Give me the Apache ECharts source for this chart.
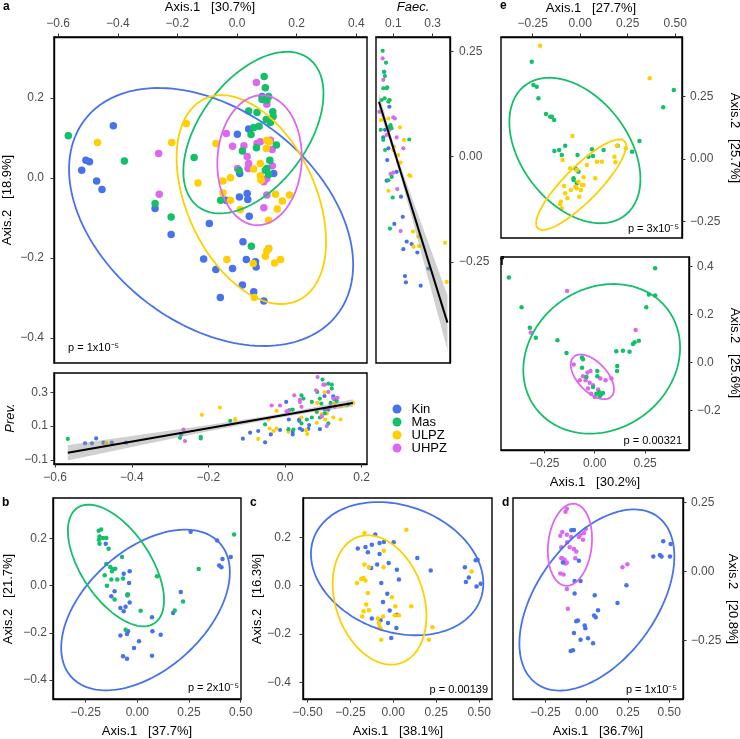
<!DOCTYPE html>
<html><head><meta charset="utf-8">
<script src="https://cdn.jsdelivr.net/npm/echarts@6/dist/echarts.min.js"></script>
<style>html,body{margin:0;padding:0;background:#fff}#c{width:740px;height:739px}</style>
</head><body><div id="c"></div>
<script>
// ---------------- DATA ----------------
const groups = ['Kin', 'Mas', 'ULPZ', 'UHPZ'];
// panel a (main PCoA)
const aKin = [[-0.415,0.13],[-0.521,0.019],[-0.507,0.044],[-0.495,0.04],[-0.471,-0.008],[-0.453,-0.029],[-0.275,-0.077],[-0.221,-0.142],[-0.093,-0.114],[-0.112,-0.203],[-0.071,-0.229],[-0.056,-0.299],[-0.015,-0.227],[0.018,-0.268],[0.02,-0.16],[0.031,-0.204],[0.056,-0.285],[0.062,-0.21],[0.064,-0.223],[0.09,-0.308],[0.034,-0.039],[0.036,-0.054],[0.008,-0.048],[0.041,-0.096],[-0.037,-0.056],[0.001,0.109],[0.009,0.011],[0.039,0.122],[0.123,0.011],[0.084,0.203]];
const aMas = [[-0.566,0.105],[-0.378,0.042],[-0.275,-0.064],[-0.221,-0.098],[-0.144,0.051],[-0.055,-0.056],[0.048,-0.171],[0.091,0.253],[0.095,0.225],[0.084,0.196],[0.106,0.203],[0.1,0.194],[0.039,0.167],[0.067,0.163],[0.12,0.165],[0.121,0.153],[0.098,0.146],[0.074,0.129],[0.056,0.126],[0.112,0.138],[0.047,0.108],[0.065,0.075],[0.018,0.067],[0.132,0.082],[0.11,0.044],[0.007,0.018],[0.095,0.019],[0.106,0.008],[0.1,0.023]];
const aULPZ = [[-0.468,0.088],[-0.219,0.088],[-0.17,0.136],[-0.131,-0.013],[-0.071,0.086],[-0.047,-0.008],[-0.022,0],[-0.047,-0.038],[-0.022,-0.056],[0.011,-0.079],[-0.034,-0.204],[0.054,-0.214],[0.058,-0.299],[0.095,-0.196],[0.1,-0.183],[0.106,-0.177],[0.126,-0.213],[0.146,-0.204],[0.106,-0.106],[0.135,-0.078],[0.152,-0.058],[0.176,-0.043],[0.129,-0.041],[0.056,0.022],[0.078,0.005],[0.081,-0.006],[0.078,0.036],[0.1,0.094],[0.098,0.073],[0.108,0.09]];
const aUHPZ = [[-0.263,0.061],[-0.261,-0.041],[0.065,0.238],[0.1,0.184],[-0.036,0.111],[-0.015,0.079],[0.023,0.08],[0.034,0.053],[0.039,0.036],[0.037,0.023],[0.002,0.023],[0.078,0.09],[0.112,0.094],[0.118,0.071],[0.118,0.03],[0.09,-0.01],[0.1,-0.002],[0.1,-0.043],[0.09,-0.075],[0.106,-0.177],[0.067,0.086]];
// ellipse params: [cx, cy, half-width, half-height, correlation]
const aKinEll = [-0.087,-0.098,0.4765,0.3225,-0.37];
const aMasEll = [0.055,0.113,0.235,0.202,0.48];
const aULPZEll = [0.048,-0.0545,0.2507,0.261,-0.4];
const aUHPZEll = [0.0755,0.044,0.1416,0.1625,0.05];

// Faecalibacterium vs Axis.2
const faecKin = [[0.054,0.202],[0.08,0.119],[0.049,0.046],[0.075,0.02],[0.069,-0.008],[0.066,-0.057],[0.117,-0.036],[0.139,-0.095],[0.148,-0.143],[0.105,-0.16],[0.168,-0.202],[0.151,-0.22],[0.193,-0.208],[0.222,-0.228],[0.159,-0.284],[0.164,-0.299],[0.239,-0.307],[0.278,-0.266],[0.058,0.064]];
const faecMas = [[0.046,0.252],[0.063,0.224],[0.053,0.202],[0.057,0.192],[0.049,0.163],[0.066,0.163],[0.069,0.165],[0.056,0.139],[0.041,0.135],[0.08,0.135],[0.075,0.131],[0.036,0.064],[0.058,0.016],[0.086,0.075],[0.091,0.068],[0.08,0.071],[0.181,0.041],[0.075,-0.056],[0.092,-0.048],[0.097,-0.097],[0.083,-0.171],[0.049,0.04]];
const faecULPZ = [[0.083,0.135],[0.037,0.087],[0.075,0.091],[0.134,0.07],[0.154,0.04],[0.1,0.016],[0.125,0.004],[0.137,-0.014],[0.181,-0.044],[0.187,-0.046],[0.075,-0.081],[0.2,-0.178],[0.227,-0.19],[0.203,-0.214],[0.231,-0.213],[0.363,-0.205],[0.371,-0.298],[0.103,0.024]];
const faecUHPZ = [[0.046,0.234],[0.049,0.183],[0.029,0.107],[0.1,0.094],[0.108,0.091],[0.08,0.064],[0.117,0.046],[0.151,0.02],[0.086,-0.041],[0.1,-0.038],[0.12,-0.077],[0.137,-0.177],[0.066,0.052]];
const faecFit = [[0.027,0.131],[0.375,-0.395]];
const faecBandX = [0.027,0.08,0.13,0.2,0.27,0.375];
const faecBandLo = [0.111,0.039,-0.037,-0.155,-0.278,-0.46];
const faecBandHi = [0.151,0.063,-0.013,-0.105,-0.194,-0.33];

// Axis.1 vs Prevotella
const prevKin = [[-0.522,-0.002],[-0.504,-0.002],[-0.493,0.027],[-0.474,0.002],[-0.452,0.002],[-0.415,0.002],[-0.271,0.051],[-0.11,0.026],[-0.091,0.061],[-0.07,0.071],[-0.052,0.004],[-0.037,0.051],[-0.013,0.077],[0.003,0.243],[0.01,0.139],[0.02,0.051],[0.02,0.067],[0.037,0.131],[0.037,0.139],[0.039,0.086],[0.045,0.077],[0.061,0.084],[0.063,0.106],[0.091,0.082],[0.103,0.278],[0.126,0.276],[0.129,0.259],[0.104,0.198],[0.113,0.198]];
const prevMas = [[-0.567,0.024],[-0.274,0.031],[-0.22,0.037],[-0.22,0.027],[-0.143,0.131],[-0.052,0.11],[0.009,0.082],[0.011,0.194],[0.02,0.198],[0.043,0.282],[0.048,0.263],[0.07,0.243],[0.084,0.302],[0.098,0.375],[0.113,0.351],[0.122,0.345],[0.122,0.322],[0.135,0.249],[0.119,0.237],[0.091,0.263],[0.095,0.233],[0.083,0.184],[0.07,0.151],[0.057,0.139],[0.043,0.116],[0.022,0.08],[0.113,0.116],[0.104,0.175],[0.091,0.151],[0.165,0.229]];
const prevULPZ = [[-0.467,-0.002],[-0.217,0.167],[-0.17,0.21],[-0.13,0.141],[-0.07,0.024],[-0.043,0.139],[-0.04,0.086],[-0.03,0.071],[-0.022,0.19],[-0.022,0.086],[0.009,0.067],[0.043,0.151],[0.055,0.076],[0.058,0.053],[0.083,0.12],[0.084,0.237],[0.096,0.171],[0.103,0.3],[0.105,0.139],[0.109,0.175],[0.126,0.151],[0.13,0.237],[0.145,0.139],[0.161,0.224],[0.178,0.237],[0.145,0.218]];
const prevUHPZ = [[-0.265,0.08],[-0.261,0.012],[-0.035,0.222],[-0.013,0.222],[0.004,0.188],[0.009,0.19],[0.024,0.282],[0.039,0.257],[0.039,0.243],[0.043,0.214],[0.081,0.312],[0.085,0.39],[0.1,0.345],[0.104,0.345],[0.113,0.302],[0.126,0.263],[0.13,0.214],[0.137,0.267],[0.109,0.1],[0.096,0.157],[0.118,0.214]];
const prevFit = [[-0.567,-0.057],[0.177,0.237]];
const prevBandX = [-0.567,-0.4,-0.2,-0.05,0.05,0.177];
const prevBandLo = [-0.103,-0.023,0.07,0.135,0.174,0.215];
const prevBandHi = [-0.011,0.041,0.106,0.159,0.2,0.259];

// panel e (Mas vs ULPZ)
const eMas = [[0.493,0.276],[0.437,0.207],[0.312,0.072],[0.273,0.029],[0.197,0.053],[0.123,0.036],[0.062,0.039],[0.044,0.009],[0.067,0.012],[-0.014,0.016],[-0.026,-0.037],[-0.018,-0.044],[-0.009,-0.051],[-0.035,-0.077],[-0.018,-0.097],[-0.079,0.053],[-0.111,0.036],[-0.097,0.016],[-0.136,0.032],[-0.137,0.156],[-0.18,0.18],[-0.158,0.169],[-0.149,0.169],[-0.22,0.243],[-0.229,0.289],[-0.246,0.296],[-0.255,0.389],[-0.035,-0.084]];
const eULPZ = [[-0.211,0.453],[0.366,0.323],[-0.041,0.092],[-0.093,-0.004],[0.241,0.043],[0.194,0.053],[0.18,0.009],[0.088,-0.011],[0.114,-0.011],[0.035,-0.024],[-0.018,-0.044],[0.018,-0.073],[0.009,-0.104],[0.004,-0.124],[-0.026,-0.111],[-0.049,-0.124],[-0.079,-0.137],[-0.085,-0.108],[-0.067,-0.157],[-0.102,-0.171],[-0.097,-0.197],[-0.106,-0.18],[-0.005,-0.151],[0.079,-0.077],[0.018,-0.104],[-0.009,-0.091],[-0.018,-0.117],[-0.053,-0.037],[0.185,-0.013]];
const eMasEll = [-0.028,0.034,0.345,0.291,-0.39];
const eULPZEll = [0.0044,-0.1027,0.2368,0.1813,0.855];

// panel f (Mas vs UHPZ)
const fMas = [[-0.426,0.355],[0.3,0.393],[-0.363,0.23],[-0.322,0.145],[-0.292,0.103],[-0.185,0.093],[-0.14,0.04],[0.256,0.23],[0.269,0.284],[0.3,0.279],[0.219,0.091],[0.198,0.084],[0.19,0.077],[0.173,0.045],[0.14,0.049],[0.107,0.047],[0.112,-0.015],[0.111,-0.036],[-0.063,0.021],[-0.058,0.013],[-0.063,-0.022],[-0.041,-0.06],[0.013,-0.036],[0.013,-0.057],[-0.008,-0.102],[0.008,-0.13],[0.025,-0.141],[0.033,-0.132],[0.041,-0.127],[0.021,-0.123]];
const fUHPZ = [[-0.137,0.298],[-0.317,0.125],[0.203,0.135],[-0.104,-0.008],[-0.036,-0.042],[-0.021,-0.036],[-0.058,-0.057],[-0.045,-0.074],[-0.025,-0.084],[-0.008,-0.095],[0.054,-0.074],[0.083,-0.067],[0.028,-0.067],[-0.033,-0.109],[-0.017,-0.13],[0.017,-0.113],[-0.074,-0.074],[0,-0.144]];
const fMasEll = [0.0347,0.0153,0.389,0.312,0.15];
const fUHPZEll = [-0.0116,-0.06,0.1073,0.0934,-0.55];

// panel b (Kin vs Mas)
const bKin = [[-0.153,0.178],[0.258,0.229],[0.386,0.192],[0.412,0.113],[0.396,0.086],[0.407,0.078],[0.452,0.122],[-0.066,0.051],[-0.037,0.061],[-0.04,0.011],[-0.11,-0.024],[-0.126,-0.045],[-0.048,-0.038],[-0.037,-0.071],[-0.082,-0.095],[-0.066,-0.109],[-0.057,-0.09],[-0.045,-0.194],[-0.05,-0.205],[-0.082,-0.211],[0.008,-0.236],[-0.016,-0.265],[-0.069,-0.3],[-0.05,-0.31],[0.071,-0.134],[0.073,-0.194],[0.113,-0.208],[0.071,-0.297],[0.173,-0.116],[0.21,-0.027]];
const bMas = [[-0.187,0.233],[-0.175,0.238],[-0.183,0.209],[-0.186,0.195],[-0.166,0.202],[-0.15,0.202],[-0.183,0.178],[-0.139,0.157],[-0.15,0.092],[-0.131,0.079],[-0.118,0.071],[-0.107,0.072],[-0.123,0.061],[-0.074,0.122],[-0.158,0.044],[-0.147,0],[-0.126,0.026],[-0.097,0.026],[-0.069,0.03],[-0.045,-0.038],[-0.11,-0.059],[0.016,-0.106],[0.095,0.04],[0.181,-0.105],[0.221,-0.067],[0.297,0.071],[0.468,0.217],[-0.057,-0.187],[-0.048,-0.042]];
const bKinEll = [0.0396,-0.1033,0.408,0.341,0.47];
const bMasEll = [-0.1034,0.0856,0.2326,0.2582,-0.57];

// panel c (Kin vs ULPZ)
const cKin = [[-0.207,0.153],[-0.162,0.16],[-0.148,0.138],[-0.125,0.169],[-0.105,0.211],[-0.08,0.176],[-0.055,0.18],[0.002,0.179],[-0.08,0.131],[-0.027,0.094],[-0.094,0.087],[-0.129,0.073],[0.021,0.066],[0.033,0.025],[0.14,0.114],[0.218,0.063],[-0.07,0.011],[-0.035,-0.033],[-0.06,-0.067],[-0.125,-0.136],[-0.021,-0.103],[0.021,-0.12],[0.018,-0.175],[-0.031,-0.154],[-0.012,-0.216],[-0.074,-0.143],[0.417,0.076],[0.423,0.015],[0.44,0.034],[0.48,0.105],[0.491,0.107],[0.485,-0.003],[0.509,0.008]];
const cULPZ = [[-0.168,0.217],[0.076,0.231],[-0.055,0.144],[-0.168,0.087],[-0.142,0.076],[-0.057,0.076],[-0.212,0.011],[-0.187,0.028],[-0.173,0.032],[-0.162,0.021],[-0.148,-0.03],[-0.158,-0.078],[-0.142,-0.102],[-0.173,-0.106],[-0.181,-0.127],[-0.008,-0.048],[0.012,-0.085],[0.105,-0.085],[0.008,-0.122],[0.033,-0.122],[-0.06,-0.127],[-0.09,-0.136],[-0.084,-0.154],[-0.08,-0.17],[-0.07,-0.223],[-0.074,-0.178],[0.228,-0.172],[0.207,-0.223],[0.456,0.059]];
const cKinEll = [0.0224,0.0702,0.502,0.275,-0.22];
const cULPZEll = [-0.08,-0.059,0.273,0.267,-0.25];

// panel d (Kin vs UHPZ)
const dKin = [[-0.093,0.15],[-0.077,0.151],[-0.047,0.04],[-0.144,0.033],[-0.073,-0.034],[-0.037,-0.034],[-0.073,-0.079],[0.049,-0.085],[0.069,-0.14],[0.045,-0.159],[0.055,-0.165],[-0.012,-0.195],[-0.008,-0.205],[-0.063,-0.179],[-0.053,-0.177],[-0.077,-0.222],[-0.037,-0.246],[0.008,-0.241],[0.039,-0.259],[-0.097,-0.287],[-0.083,-0.284],[0.241,-0.049],[0.187,-0.113],[0.404,0.055],[0.444,0.061],[0.454,0.055],[0.464,0.11],[0.509,0.1],[0.505,0.055]];
const dUHPZ = [[-0.12,0.228],[-0.128,0.217],[-0.148,0.144],[-0.16,0.13],[-0.12,0.134],[-0.094,0.126],[-0.118,0.107],[-0.154,0.089],[-0.103,0.089],[-0.148,0.049],[-0.134,0.043],[-0.12,0.033],[-0.128,0.03],[-0.154,0.049],[-0.077,0.082],[-0.063,0.073],[-0.069,0.049],[-0.047,0.126],[-0.022,0.116],[-0.016,0.14],[-0.006,0.155],[-0.037,0.134],[-0.16,-0.006],[-0.14,-0.01],[-0.12,-0.063],[-0.114,-0.134],[0.217,0.016],[0.247,0.027]];
const dKinEll = [0.0619,-0.1024,0.4696,0.328,0.48];
const dUHPZEll = [-0.1014,0.0976,0.134,0.1488,0.15];

// tick labels
const aXTicks = [-0.6,-0.4,-0.2,0,0.2,0.4], aYTicks = [-0.4,-0.2,0,0.2];
const faecXTicks = [0.1,0.3], faecYTicks = [-0.25,0,0.25];
const prevXTicks = [-0.6,-0.4,-0.2,0,0.2], prevYTicks = [-0.1,0.1,0.3];
const eXTicks = [-0.25,0,0.25,0.5], eYTicks = [-0.25,0,0.25];
const fXTicks = [-0.25,0,0.25], fYTicks = [-0.2,0,0.2,0.4];
const bXTicks = [-0.25,0,0.25,0.5], bYTicks = [-0.4,-0.2,0,0.2];
const cXTicks = [-0.5,-0.25,0,0.25,0.5], cYTicks = [-0.4,-0.2,0,0.2];
const dXTicks = [-0.25,0,0.25,0.5], dYTicks = [-0.25,0,0.25];

// ---------------- STYLE / LAYOUT ----------------
const COLORS = {Kin:'#4672EE', Mas:'#14BF69', ULPZ:'#FFCF00', UHPZ:'#DD68F0'};
const FONT = '"Liberation Sans", Arial, sans-serif';
const panels = [
  {left:54, top:37, w:313, h:326, xmin:-0.614, xmax:0.436, ymin:-0.463, ymax:0.352, xpos:'top', ypos:'left', xt:aXTicks, yt:aYTicks, xd:1, yd:1, ym:10, xm:7, pt:7.5,
   pts:[['Kin',aKin],['UHPZ',aUHPZ],['ULPZ',aULPZ],['Mas',aMas]], ells:[['Kin',aKinEll],['Mas',aMasEll],['ULPZ',aULPZEll],['UHPZ',aUHPZEll]]},
  {left:376, top:37, w:74, h:326, xmin:0.012, xmax:0.388, ymin:-0.491, ymax:0.285, xpos:'top', ypos:'right', xt:faecXTicks, yt:faecYTicks, xd:1, yd:2, ym:9, xm:7, pt:4.2,
   pts:[['Kin',faecKin],['ULPZ',faecULPZ],['UHPZ',faecUHPZ],['Mas',faecMas]], ells:[], fit:faecFit, band:[faecBandX,faecBandLo,faecBandHi]},
  {left:54, top:373, w:313, h:91, xmin:-0.603, xmax:0.214, ymin:-0.124, ymax:0.414, xpos:'bottom', ypos:'left', xt:prevXTicks, yt:prevYTicks, xd:1, yd:1, ym:6, xm:8, pt:4.2,
   pts:[['Kin',prevKin],['ULPZ',prevULPZ],['Mas',prevMas],['UHPZ',prevUHPZ]], ells:[], fit:prevFit, band:[prevBandX,prevBandLo,prevBandHi]},
  {left:501, top:37, w:181, h:201, xmin:-0.417, xmax:0.536, ymin:-0.316, ymax:0.488, xpos:'top', ypos:'right', xt:eXTicks, yt:eYTicks, xd:2, yd:2, ym:8, xm:7, pt:4.5,
   pts:[['Mas',eMas],['ULPZ',eULPZ]], ells:[['Mas',eMasEll],['ULPZ',eULPZEll]]},
  {left:501, top:257, w:188, h:193, xmin:-0.465, xmax:0.468, ymin:-0.365, ymax:0.44, xpos:'bottom', ypos:'right', xt:fXTicks, yt:fYTicks, xd:2, yd:1, ym:8, xm:8, pt:4.5,
   pts:[['UHPZ',fUHPZ],['Mas',fMas]], ells:[['Mas',fMasEll],['UHPZ',fUHPZEll]]},
  {left:53, top:498, w:188, h:201, xmin:-0.408, xmax:0.5015, ymin:-0.481, ymax:0.372, xpos:'bottom', ypos:'left', xt:bXTicks, yt:bYTicks, xd:2, yd:1, ym:6, xm:8, pt:4.5,
   pts:[['Kin',bKin],['Mas',bMas]], ells:[['Kin',bKinEll],['Mas',bMasEll]]},
  {left:303, top:498, w:189, h:201, xmin:-0.526, xmax:0.575, ymin:-0.468, ymax:0.362, xpos:'bottom', ypos:'left', xt:cXTicks, yt:cYTicks, xd:2, yd:1, ym:12, xm:8, pt:4.5,
   pts:[['Kin',cKin],['ULPZ',cULPZ]], ells:[['Kin',cKinEll],['ULPZ',cULPZEll]]},
  {left:513, top:498, w:170, h:201, xmin:-0.4465, xmax:0.584, ymin:-0.461, ymax:0.267, xpos:'bottom', ypos:'right', xt:dXTicks, yt:dYTicks, xd:2, yd:2, ym:8, xm:8, pt:4.5,
   pts:[['UHPZ',dUHPZ],['Kin',dKin]], ells:[['Kin',dKinEll],['UHPZ',dUHPZEll]]}
];

function fmt(d){ return function(v){ return (v < 0 ? '\u2212' : '') + Math.abs(v).toFixed(d); }; }
function ellipsePts(p){
  const [cx, cy, sx, sy, rho] = p, phi = Math.acos(rho), out = [];
  for (let i = 0; i <= 160; i++){ const t = i / 160 * 2 * Math.PI; out.push([cx + sx*Math.cos(t), cy + sy*Math.cos(t - phi)]); }
  return out;
}

const grid = [], xAxis = [], yAxis = [], series = [];
panels.forEach((p, i) => {
  grid.push({left:p.left, top:p.top, width:p.w, height:p.h, show:true, borderColor:'#000', borderWidth:1.4, containLabel:false});
  const common = (ticks, d, m) => ({
    splitLine:{show:false},
    axisLine:{show:true, onZero:false, lineStyle:{color:'#000', width:1.4}},
    axisTick:{show:true, inside:false, length:3.5, customValues:ticks, lineStyle:{color:'#333', width:1}},
    axisLabel:{customValues:ticks, formatter:fmt(d), color:'#4d4d4d', fontSize:12, fontFamily:FONT, margin:m}
  });
  xAxis.push(Object.assign({type:'value', gridIndex:i, position:p.xpos, min:p.xmin, max:p.xmax}, common(p.xt, p.xd, p.xm)));
  yAxis.push(Object.assign({type:'value', gridIndex:i, position:p.ypos, min:p.ymin, max:p.ymax}, common(p.yt, p.yd, p.ym)));
  p.pts.forEach(([g, data]) => {
    series.push({type:'scatter', name:g, xAxisIndex:i, yAxisIndex:i, data:data, symbolSize:p.pt,
      itemStyle:{color:COLORS[g], opacity:1}, z:2, silent:true});
  });
  if (p.band){
    const [bx, lo, hi] = p.band;
    series.push({type:'custom', xAxisIndex:i, yAxisIndex:i, data:[[bx[0], lo[0]]], z:3, silent:true,
      renderItem:function(params, api){
        const pts = [];
        for (let k = 0; k < bx.length; k++) pts.push(api.coord([bx[k], hi[k]]));
        for (let k = bx.length - 1; k >= 0; k--) pts.push(api.coord([bx[k], lo[k]]));
        return {type:'polygon', shape:{points:pts}, style:{fill:'rgba(150,150,150,0.45)'}};
      }});
    series.push({type:'line', xAxisIndex:i, yAxisIndex:i, data:p.fit, symbol:'none', z:4, silent:true,
      lineStyle:{color:'#000', width:2}});
  }
  p.ells.forEach(([g, e]) => {
    series.push({type:'line', name:g, xAxisIndex:i, yAxisIndex:i, data:ellipsePts(e), symbol:'none', showSymbol:false,
      z:5, silent:true, lineStyle:{color:COLORS[g], width:1.8}});
  });
});

function txt(text, x, y, opts){
  opts = opts || {};
  return {type:'text', x:x, y:y, rotation:opts.rot || 0, silent:true, z:100,
    style:{text:text, fill:opts.color || '#000', fontSize:opts.size || 13, fontFamily:FONT,
      fontStyle:opts.italic ? 'italic' : 'normal', fontWeight:opts.bold ? 'bold' : 'normal',
      align:opts.align || 'center', verticalAlign:'middle', textAlign:opts.align || 'center', textVerticalAlign:'middle'}};
}
const R = Math.PI / 2;
const graphics = [
  txt('a', 3, 7, {bold:true, size:12, align:'left'}),
  txt('e', 500, 6, {bold:true, size:12, align:'left'}),
  txt('f', 500, 262, {bold:true, size:12, align:'left'}),
  txt('b', 2, 503, {bold:true, size:12, align:'left'}),
  txt('c', 250, 503, {bold:true, size:12, align:'left'}),
  txt('d', 502, 503, {bold:true, size:12, align:'left'}),
  txt('Axis.1   [30.7%]', 210, 7),
  txt('Axis.2   [18.9%]', 7, 200, {rot:R}),
  txt('Faec.', 413, 7, {italic:true}),
  txt('Prev.', 10, 418, {rot:R, italic:true}),
  txt('Axis.1   [27.7%]', 591, 8),
  txt('Axis.2   [25.7%]', 735, 138, {rot:-R}),
  txt('Axis.1   [30.2%]', 595, 482),
  txt('Axis.2   [25.6%]', 735, 353, {rot:-R}),
  txt('Axis.1   [37.7%]', 147, 731),
  txt('Axis.2   [21.7%]', 8, 599, {rot:R}),
  txt('Axis.1   [38.1%]', 398, 731),
  txt('Axis.2   [16.3%]', 257, 599, {rot:R}),
  txt('Axis.1   [36.7%]', 598, 731),
  txt('Axis.2   [20.8%]', 733, 599, {rot:-R}),
  txt('p = 1x10\u207B\u2075', 68, 348, {size:11, align:'left'}),
  txt('p = 2x10\u207B\u2075', 239, 688, {size:11, align:'right'}),
  txt('p = 0.00139', 488, 690, {size:11, align:'right'}),
  txt('p = 1x10\u207B\u2075', 677, 690, {size:11, align:'right'}),
  txt('p = 3x10\u207B\u2075', 679, 229, {size:11, align:'right'}),
  txt('p = 0.00321', 682, 441, {size:11, align:'right'})
];

const chart = echarts.init(document.getElementById('c'), null, {renderer:'canvas', width:740, height:739});
chart.setOption({
  animation:false,
  backgroundColor:'#fff',
  grid:grid, xAxis:xAxis, yAxis:yAxis, series:series,
  legend:{orient:'vertical', left:387.5, top:397.5, itemWidth:19, itemHeight:9, itemGap:0, symbolKeepAspect:true,
    textStyle:{fontSize:13, color:'#000', fontFamily:FONT, lineHeight:12.5},
    data:groups.map(g => ({name:g, icon:'circle', itemStyle:{color:COLORS[g]}})), selectedMode:false},
  graphic:graphics
});
</script></body></html>
